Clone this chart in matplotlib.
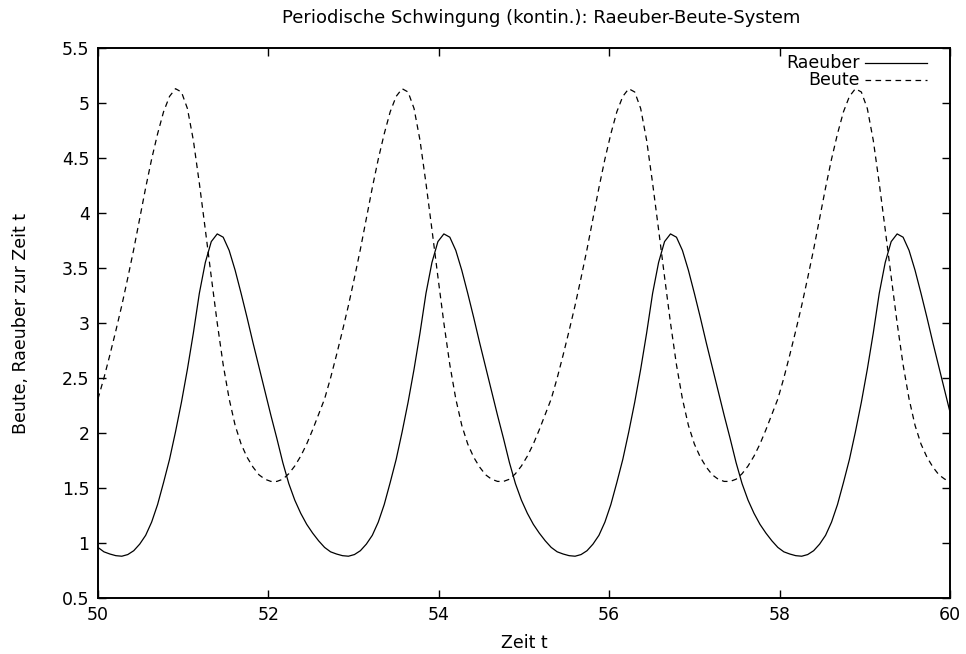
## Raeuber-Beute plot (gnuplot look)

import numpy as np
import matplotlib
matplotlib.use('Agg')
import matplotlib.pyplot as plt
from matplotlib.ticker import FuncFormatter

## data (dt = 0.07)

zeit = np.round(50 + 0.07 * np.arange(144), 2)

raeuber = [0.96, 0.92, 0.90, 0.885, 0.88, 0.895, 0.93, 0.99, 1.07, 1.19,
           1.35, 1.55, 1.76, 2.01, 2.28, 2.58, 2.91, 3.27, 3.55, 3.74,
           3.81, 3.78, 3.66, 3.48, 3.27, 3.05, 2.82, 2.60, 2.38, 2.16,
           1.95, 1.73, 1.54, 1.39, 1.27, 1.17, 1.09, 1.02,
           0.96, 0.92, 0.90, 0.885, 0.88, 0.895, 0.93, 0.99, 1.07, 1.19,
           1.35, 1.55, 1.76, 2.01, 2.28, 2.58, 2.91, 3.27, 3.55, 3.74,
           3.81, 3.78, 3.66, 3.48, 3.27, 3.05, 2.82, 2.60, 2.38, 2.16,
           1.95, 1.73, 1.54, 1.39, 1.27, 1.17, 1.09, 1.02,
           0.96, 0.92, 0.90, 0.885, 0.88, 0.895, 0.93, 0.99, 1.07, 1.19,
           1.35, 1.55, 1.76, 2.01, 2.28, 2.58, 2.91, 3.27, 3.55, 3.74,
           3.81, 3.78, 3.66, 3.48, 3.27, 3.05, 2.82, 2.60, 2.38, 2.16,
           1.95, 1.73, 1.54, 1.39, 1.27, 1.17, 1.09, 1.02,
           0.96, 0.92, 0.90, 0.885, 0.88, 0.895, 0.93, 0.99, 1.07, 1.19,
           1.35, 1.55, 1.76, 2.01, 2.28, 2.58, 2.91, 3.27, 3.55, 3.74,
           3.81, 3.78, 3.66, 3.48, 3.27, 3.05, 2.82, 2.60, 2.38, 2.16]

beute = [2.31, 2.50, 2.71, 2.93, 3.16, 3.41, 3.67, 3.95, 4.23, 4.49,
         4.72, 4.92, 5.06, 5.13, 5.10, 4.95, 4.66, 4.27, 3.85, 3.42,
         3.00, 2.62, 2.31, 2.07, 1.90, 1.78, 1.69, 1.62, 1.58, 1.56,
         1.56, 1.58, 1.63, 1.70, 1.79, 1.90, 2.03, 2.17,
         2.31, 2.50, 2.71, 2.93, 3.16, 3.41, 3.67, 3.95, 4.23, 4.49,
         4.72, 4.92, 5.06, 5.13, 5.10, 4.95, 4.66, 4.27, 3.85, 3.42,
         3.00, 2.62, 2.31, 2.07, 1.90, 1.78, 1.69, 1.62, 1.58, 1.56,
         1.56, 1.58, 1.63, 1.70, 1.79, 1.90, 2.03, 2.17,
         2.31, 2.50, 2.71, 2.93, 3.16, 3.41, 3.67, 3.95, 4.23, 4.49,
         4.72, 4.92, 5.06, 5.13, 5.10, 4.95, 4.66, 4.27, 3.85, 3.42,
         3.00, 2.62, 2.31, 2.07, 1.90, 1.78, 1.69, 1.62, 1.58, 1.56,
         1.56, 1.58, 1.63, 1.70, 1.79, 1.90, 2.03, 2.17,
         2.31, 2.50, 2.71, 2.93, 3.16, 3.41, 3.67, 3.95, 4.23, 4.49,
         4.72, 4.92, 5.06, 5.13, 5.10, 4.95, 4.66, 4.27, 3.85, 3.42,
         3.00, 2.62, 2.31, 2.07, 1.90, 1.78, 1.69, 1.62, 1.58, 1.56]

xticks = [50, 52, 54, 56, 58, 60]
yticks = [0.5, 1, 1.5, 2, 2.5, 3, 3.5, 4, 4.5, 5, 5.5]

titel = 'Periodische Schwingung (kontin.): Raeuber-Beute-System'
xlab = 'Zeit t'
ylab = 'Beute, Raeuber zur Zeit t'

## plot

plt.rcParams['font.family'] = ['DejaVu Sans']
FS = 12.5

fig = plt.figure(figsize=(9.66, 6.54), dpi=100)
ax = fig.add_axes([0.1014, 0.0856, 0.882, 0.841])

ax.plot(zeit, raeuber, color='black', lw=0.9)
ax.plot(zeit, beute, color='black', lw=0.9, dashes=(4.5, 3.5))

ax.set_xlim(50, 60)
ax.set_ylim(0.5, 5.5)
ax.set_xticks(xticks)
ax.set_yticks(yticks)
ax.yaxis.set_major_formatter(FuncFormatter(lambda v, p: '%g' % v))

ax.tick_params(direction='in', length=6, width=1, top=True, right=True,
               labelsize=FS, pad=6)
for s in ax.spines.values():
    s.set_linewidth(1.4)

# gnuplot puts the title a bit right of the plot centre
fig.text(0.5605, 0.9725, titel, ha='center', va='center', fontsize=13)
ax.set_xlabel(xlab, fontsize=FS, labelpad=7)
ax.set_ylabel(ylab, fontsize=FS, labelpad=23)

# legend gnuplot style: text right aligned, key to the right
ax.text(0.894, 0.9727, 'Raeuber', ha='right', va='center', fontsize=FS,
        transform=ax.transAxes)
ax.plot([0.900, 0.973], [0.9727, 0.9727], color='black', lw=0.9,
        transform=ax.transAxes)
ax.text(0.894, 0.9418, 'Beute', ha='right', va='center', fontsize=FS,
        transform=ax.transAxes)
ax.plot([0.900, 0.973], [0.9418, 0.9418], color='black', lw=0.9,
        dashes=(4.5, 3.5), transform=ax.transAxes)

fig.savefig('out.png', dpi=100)
